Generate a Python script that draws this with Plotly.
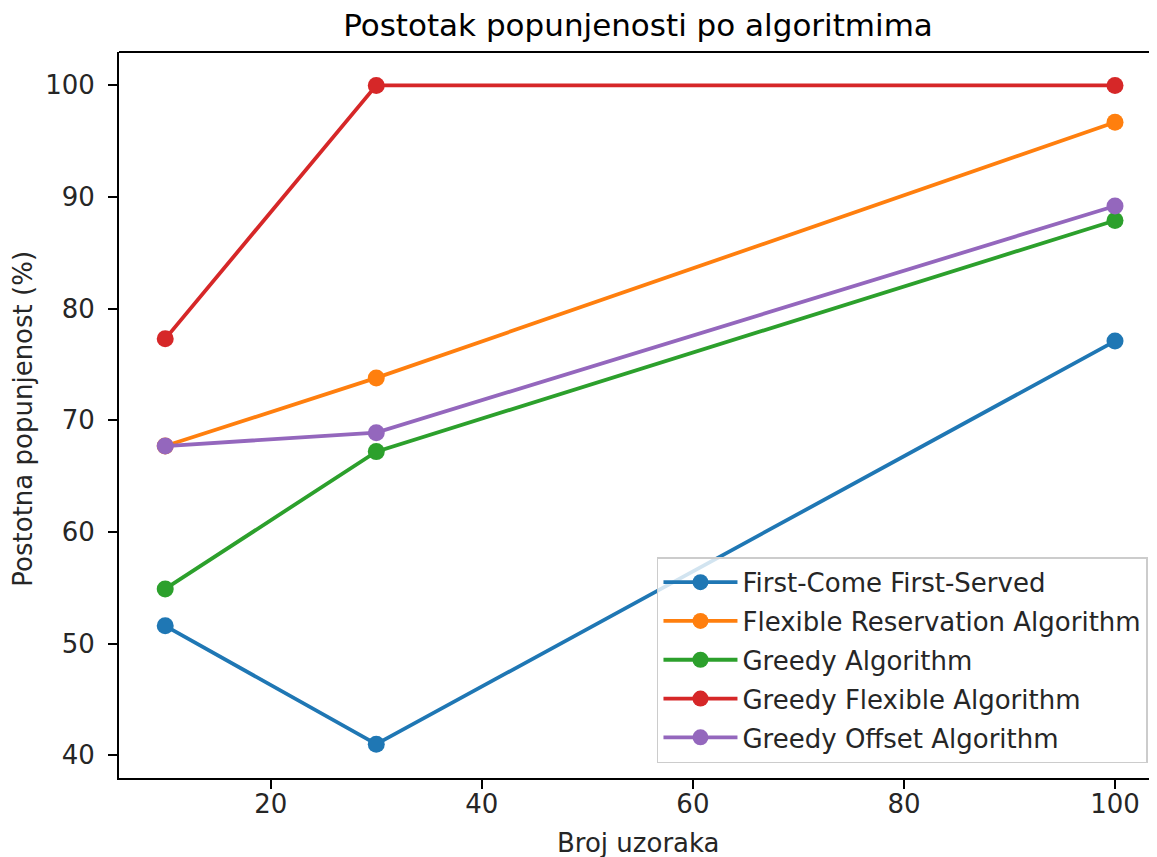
import plotly.graph_objects as go

x_samples = [10, 30, 100]
series_names = [
    "First-Come First-Served",
    "Flexible Reservation Algorithm",
    "Greedy Algorithm",
    "Greedy Flexible Algorithm",
    "Greedy Offset Algorithm",
]
fcfs = [51.6, 41.0, 77.1]
flexible_reservation = [67.7, 73.8, 96.7]
greedy = [54.9, 67.2, 87.9]
greedy_flexible = [77.3, 100.0, 100.0]
greedy_offset = [67.7, 68.9, 89.2]
series_values = [fcfs, flexible_reservation, greedy, greedy_flexible, greedy_offset]
colors = ["#1f77b4", "#ff7f0e", "#2ca02c", "#d62728", "#9467bd"]
y_ticks = [40, 50, 60, 70, 80, 90, 100]
x_ticks = [20, 40, 60, 80, 100]

FONT = "DejaVu Sans"
TXT = "#262626"
fig = go.Figure()
for name, vals, col in zip(series_names, series_values, colors):
    fig.add_trace(go.Scatter(
        x=x_samples, y=vals, name=name, mode="lines+markers",
        line=dict(color=col, width=3.8),
        marker=dict(color=col, size=17),
        legendgroup=name,
    ))

# page body has an 8px default margin; figure sized to fill the rest of the viewport
fig.update_layout(
    width=1149, height=849,
    margin=dict(l=111, r=0, t=44, b=79),
    paper_bgcolor="white", plot_bgcolor="white",
    font=dict(family=FONT, size=26, color=TXT),
    title=dict(text="Postotak popunjenosti po algoritmima", x=0.5, xref="paper",
               xanchor="center", y=0.98, yref="container", yanchor="middle",
               font=dict(family=FONT, size=31, color="black")),
    showlegend=True,
    legend=dict(x=0.9913, y=0.0203, xanchor="right", yanchor="bottom",
                bgcolor="rgba(255,255,255,0.8)", bordercolor="#cccccc", borderwidth=1.5,
                font=dict(family=FONT, size=26, color=TXT),
                tracegroupgap=2, itemwidth=74),
)
fig.update_xaxes(
    range=[5.62, 103.98], tickvals=x_ticks, ticks="outside", ticklen=9, tickwidth=2,
    tickcolor="black", showline=True, linecolor="black", linewidth=2,
    showgrid=False, zeroline=False, automargin=False, ticklabelstandoff=-7,
    tickfont=dict(family=FONT, size=26, color=TXT),
)
fig.update_yaxes(
    range=[37.97, 102.99], tickvals=y_ticks, ticks="outside", ticklen=9, tickwidth=2,
    tickcolor="black", showline=True, linecolor="black", linewidth=2,
    showgrid=False, zeroline=False, automargin=False, ticklabelstandoff=8,
    tickfont=dict(family=FONT, size=26, color=TXT),
)
fig.add_annotation(text="Broj uzoraka", xref="paper", yref="paper", x=0.5, y=0,
                   xanchor="center", yanchor="middle", yshift=-65, showarrow=False,
                   font=dict(family=FONT, size=26, color=TXT))
fig.add_annotation(text="Postotna popunjenost (%)", xref="paper", yref="paper", x=0, y=0.495,
                   xanchor="center", yanchor="middle", xshift=-96, textangle=-90, showarrow=False,
                   font=dict(family=FONT, size=26, color=TXT))
fig.add_shape(type="line", xref="paper", yref="paper", x0=0, x1=1, y0=1, y1=1,
              line=dict(color="black", width=2))
fig.write_html("out.html")
